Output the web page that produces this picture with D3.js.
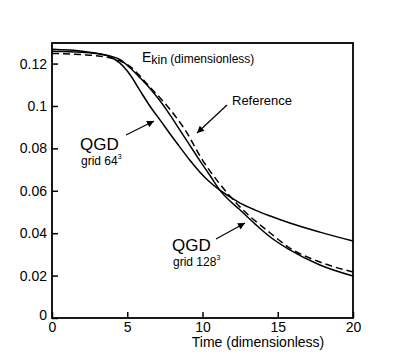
<!DOCTYPE html>
<html>
<head>
<meta charset="utf-8">
<script src="https://cdn.jsdelivr.net/npm/d3@7"></script>
<style>
  html, body { margin: 0; padding: 0; background: #fff; }
  svg { display: block; font-family: "Liberation Sans", Arial, sans-serif; }
</style>
</head>
<body>
<svg id="chart" width="402" height="358"></svg>
<script>
// ---- data ----
const timeQGD64 = [0, 2, 3.2, 3.85, 4.5, 5.2, 5.85, 6.5, 7.2, 7.85, 8.5, 9.15, 9.8, 10.5, 11.15, 11.8, 12.5, 13.5, 14.5, 15.8, 17.8, 20];
const ekinQGD64 = [0.1267, 0.1258, 0.1245, 0.1232, 0.1203, 0.1146, 0.1072, 0.1000, 0.0932, 0.0868, 0.0806, 0.0745, 0.0690, 0.0640, 0.0603, 0.0572, 0.0542, 0.0509, 0.0481, 0.0448, 0.0405, 0.0363];

const timeQGD128 = [0, 2, 3.2, 3.85, 4.5, 5.2, 5.85, 6.5, 7.2, 7.85, 8.5, 9.15, 9.8, 10.5, 11.15, 12.5, 13.5, 14.5, 15.8, 17.8, 20];
const ekinQGD128 = [0.1258, 0.1253, 0.1245, 0.1236, 0.1220, 0.1179, 0.1133, 0.1084, 0.1022, 0.0957, 0.0886, 0.0815, 0.0745, 0.0672, 0.0603, 0.0509, 0.0443, 0.0382, 0.0321, 0.0250, 0.0198];

const timeRef = [0, 2, 3.2, 3.85, 4.5, 5.2, 5.85, 6.5, 7.2, 7.85, 8.85, 10.0, 11.15, 12.5, 14.5, 15.8, 17.8, 20];
const ekinRef = [0.1248, 0.1242, 0.1235, 0.1227, 0.1213, 0.1186, 0.1141, 0.1089, 0.1037, 0.0983, 0.0886, 0.0745, 0.0632, 0.0523, 0.0401, 0.0330, 0.0264, 0.0217];

const xTicks = [0, 5, 10, 15, 20];
const xTickLabels = ["0", "5", "10", "15", "20"];
const yTicks = [0, 0.02, 0.04, 0.06, 0.08, 0.1, 0.12];
const yTickLabels = ["0", "0.02", "0.04", "0.06", "0.08", "0.1", "0.12"];

const xTitle = "Time (dimensionless)";
const labelRef = "Reference";

// ---- layout ----
const svg = d3.select("#chart");
const L = 52, R = 353, T = 43, B = 318;
const x = d3.scaleLinear().domain([0, 20]).range([L, R]);
const y = d3.scaleLinear().domain([0, 0.1297]).range([B, T]);

// axes
const xAxis = d3.axisBottom(x).tickValues(xTicks)
  .tickFormat((d, i) => xTickLabels[i]).tickSizeInner(-6).tickSizeOuter(0).tickPadding(4);
const yAxis = d3.axisLeft(y).tickValues(yTicks)
  .tickFormat((d, i) => yTickLabels[i]).tickSizeInner(-6).tickSizeOuter(0).tickPadding(5);

const gx = svg.append("g").attr("transform", `translate(0,${B})`).call(xAxis);
const gy = svg.append("g").attr("transform", `translate(${L},0)`).call(yAxis);
[gx, gy].forEach(g => {
  g.selectAll("text").attr("font-size", 14).attr("fill", "#000")
    .attr("font-family", '"Liberation Sans", Arial, sans-serif');
  g.selectAll("line").attr("stroke", "#000").attr("stroke-width", 1.5);
  g.select(".domain").attr("stroke", "none");
});
gx.selectAll("text").attr("dy", "0.68em");
// shift the y "0" label slightly up-left as in the reference
gy.selectAll(".tick").filter(d => d === 0).select("text").attr("dy", "0.1em").attr("x", -5);

// frame
svg.append("rect").attr("x", L).attr("y", T).attr("width", R - L).attr("height", B - T)
  .attr("fill", "none").attr("stroke", "#000").attr("stroke-width", 1.8);

// lines
const line = d3.line().x(d => x(d[0])).y(d => y(d[1])).curve(d3.curveMonotoneX);
const series = [
  { t: timeQGD64, v: ekinQGD64, dash: null },
  { t: timeQGD128, v: ekinQGD128, dash: null },
  { t: timeRef, v: ekinRef, dash: "7,4" }
];
series.forEach(s => {
  svg.append("path")
    .datum(s.t.map((t, i) => [t, s.v[i]]))
    .attr("d", line)
    .attr("fill", "none")
    .attr("stroke", "#000")
    .attr("stroke-width", 1.5)
    .attr("stroke-dasharray", s.dash);
});

// title E_kin
const et = svg.append("text").attr("x", 142).attr("y", 62).attr("fill", "#000");
et.append("tspan").attr("font-size", 14).text("E");
et.append("tspan").attr("font-size", 12.5).attr("dy", 2).text("kin");
et.append("tspan").attr("font-size", 12).attr("dx", 3).attr("dy", -1).text("(dimensionless)");

// x title
svg.append("text").attr("x", 258).attr("y", 347).attr("text-anchor", "middle")
  .attr("font-size", 14).attr("fill", "#000").text(xTitle);

// annotations
svg.append("text").attr("x", 232).attr("y", 105).attr("font-size", 13).attr("fill", "#000").text(labelRef);

function qgd(xp, yp, grid) {
  svg.append("text").attr("x", xp).attr("y", yp).attr("font-size", 17).attr("fill", "#000").text("QGD");
  const g = svg.append("text").attr("x", xp + 1).attr("y", yp + 15).attr("font-size", 12).attr("fill", "#000");
  g.append("tspan").text("grid " + grid);
  g.append("tspan").attr("font-size", 7).attr("dy", -6).text("3");
}
qgd(80, 150, "64");
qgd(172, 251, "128");

// arrows
const defs = svg.append("defs");
defs.append("marker").attr("id", "ah").attr("viewBox", "0 0 10 10")
  .attr("refX", 10).attr("refY", 5).attr("markerWidth", 10).attr("markerHeight", 7)
  .attr("markerUnits", "userSpaceOnUse").attr("orient", "auto")
  .append("path").attr("d", "M0,0 L10,5 L0,10 Z").attr("fill", "#000");

[[126, 135, 154, 121], [227, 105, 197, 133], [216, 239, 245, 223]].forEach(a => {
  svg.append("line").attr("x1", a[0]).attr("y1", a[1]).attr("x2", a[2]).attr("y2", a[3])
    .attr("stroke", "#000").attr("stroke-width", 1.2).attr("marker-end", "url(#ah)");
});
</script>
</body>
</html>
